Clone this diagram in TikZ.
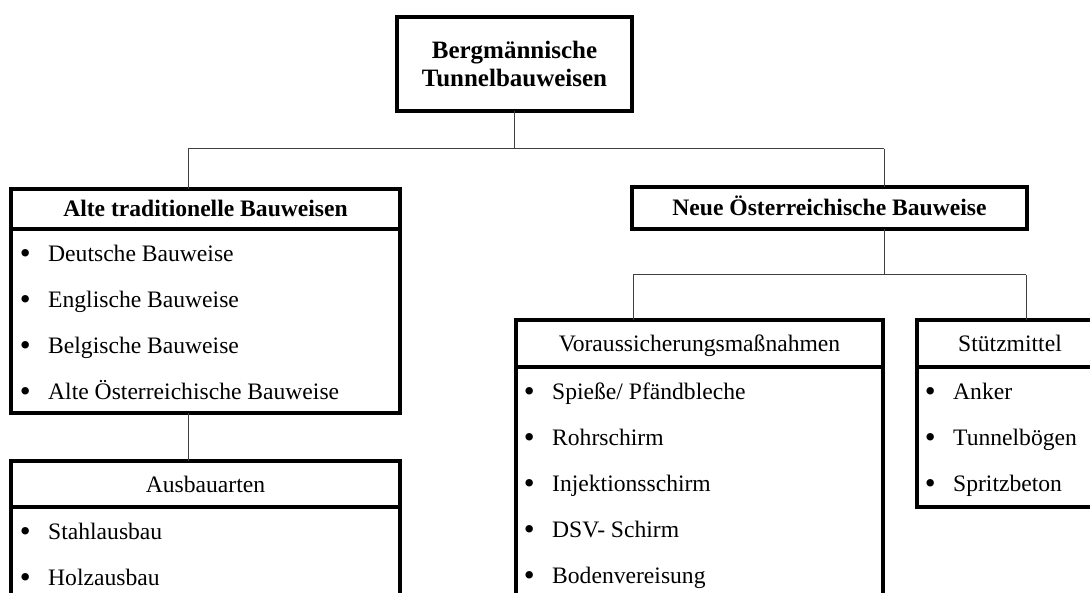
\documentclass[tikz,border=0pt]{standalone}
\usepackage{fontspec}
\setmainfont{Liberation Serif}
\usepackage{tikz}
\newcommand\dfont{\fontsize{23.6pt}{27pt}\selectfont}
\newcommand\itm{\llap{\raisebox{-2pt}{\fontsize{31pt}{31pt}\selectfont•}\hspace{17.5pt}}}

\begin{document}
\begin{tikzpicture}[x=1pt,y=-1pt,
    frame/.style={draw, line width=3.2pt, inner sep=0pt, outer sep=0pt,
      text height=16pt, text depth=0pt, font=\dfont},
    headbox/.style={frame, font=\dfont\bfseries},
    listbox/.style={draw, line width=3.2pt, inner sep=0pt, outer sep=0pt, anchor=north},
    item/.style={anchor=west, inner sep=0pt, text height=15pt, text depth=0pt, font=\dfont},
    link/.style={line width=1pt, black!75}]
  \useasboundingbox (0,0) rectangle (1090,593);
  \clip (0,0) rectangle (1090,593);

  % top
  \node[draw, line width=3.2pt, outer sep=0pt, font=\fontsize{25pt}{28pt}\selectfont\bfseries, align=center,
    minimum width=235pt, minimum height=94pt] (top) at (514.5,64) {Bergmännische\\Tunnelbauweisen};

  % left branch
  \node[headbox, minimum width=389pt, minimum height=40pt] (alte) at (205.5,209) {Alte traditionelle Bauweisen};
  \node[listbox, minimum width=389pt, minimum height=184pt] (altelist) at (alte.south) {};
  \node[item] (a1) at (48,254) {\itm Deutsche Bauweise};
  \node[item] (a2) at (48,300) {\itm Englische Bauweise};
  \node[item] (a3) at (48,346) {\itm Belgische Bauweise};
  \node[item] (a4) at (48,392) {\itm Alte Österreichische Bauweise};

  \node[frame, minimum width=389pt, minimum height=46pt] (ausbau) at (205.5,484) {Ausbauarten};
  \node[listbox, minimum width=389pt, minimum height=150pt] (ausbaulist) at (ausbau.south) {};
  \node[item] (b1) at (48,532) {\itm Stahlausbau};
  \node[item] (b2) at (48,578) {\itm Holzausbau};

  % right branch
  \node[headbox, minimum width=395pt, minimum height=42pt] (neue) at (829.5,208) {Neue Österreichische Bauweise};

  \node[frame, minimum width=367pt, minimum height=47pt] (voraus) at (699.5,343.5) {Voraussicherungsmaßnahmen};
  \node[listbox, minimum width=367pt, minimum height=260pt] (vorauslist) at (voraus.south) {};
  \node[item] (v1) at (552,392) {\itm Spieße/ Pfändbleche};
  \node[item] (v2) at (552,438) {\itm Rohrschirm};
  \node[item] (v3) at (552,484) {\itm Injektionsschirm};
  \node[item] (v4) at (552,530) {\itm DSV- Schirm};
  \node[item] (v5) at (552,576) {\itm Bodenvereisung};

  \node[frame, minimum width=186pt, minimum height=47pt] (stuetz) at (1010,343.5) {Stützmittel};
  \node[listbox, minimum width=186pt, minimum height=140pt] (stuetzlist) at (stuetz.south) {};
  \node[item] (s1) at (953,392) {\itm Anker};
  \node[item] (s2) at (953,438) {\itm Tunnelbögen};
  \node[item] (s3) at (953,484) {\itm Spritzbeton};

  % connectors
  \coordinate (ja) at (188,149);
  \coordinate (jn) at (884,149);
  \coordinate (jv) at (633,275);
  \coordinate (js) at (1026,275);
  \draw[link] (top.south) -- (top.south |- ja);
  \draw[link] (ja) -- (jn);
  \draw[link] (ja) -- (ja |- alte.north);
  \draw[link] (jn) -- (jn |- neue.north);
  \draw[link] (ja |- altelist.south) -- (ja |- ausbau.north);
  \draw[link] (jn |- neue.south) -- (jn |- jv);
  \draw[link] (jv) -- (js);
  \draw[link] (jv) -- (jv |- voraus.north);
  \draw[link] (js) -- (js |- stuetz.north);
\end{tikzpicture}
\end{document}
